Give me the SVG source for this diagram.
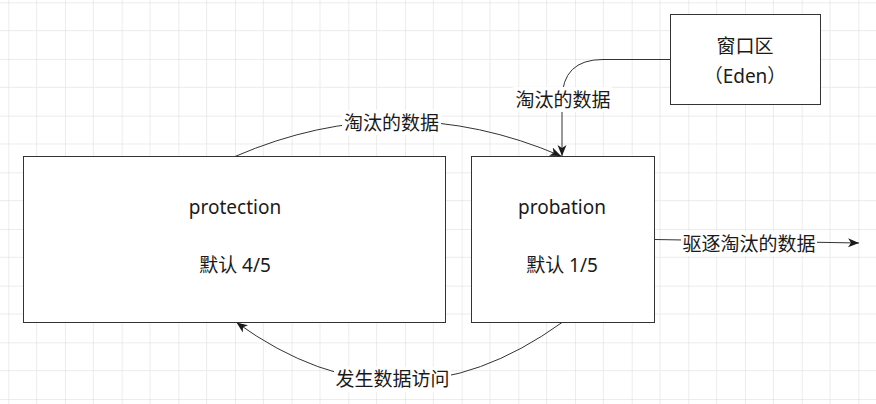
<svg xmlns="http://www.w3.org/2000/svg" width="876" height="404" viewBox="0 0 876 404">
<defs>
<pattern id="grid" x="8.3" y="2.3" width="56.67" height="56.67" patternUnits="userSpaceOnUse">
<path d="M28.33,0 V56.67 M0,28.33 H56.67" stroke="#ebebeb" stroke-width="1" fill="none"/>
<path d="M0,0 V56.67 M0,0 H56.67" stroke="#dadada" stroke-width="1" fill="none"/>
</pattern>
<marker id="arr" markerUnits="userSpaceOnUse" markerWidth="12" markerHeight="10" viewBox="0 0 12 10" refX="11" refY="5" orient="auto">
<path d="M0,0.5 L11,5 L0,9.5 L3,5 Z" fill="#1a1a1a"/>
</marker>
</defs>
<style>
.box{fill:#fff;stroke:#333;stroke-width:1}
.edge{fill:none;stroke:#333;stroke-width:1}
.t{font-family:"Noto Sans","Noto Sans CJK SC",sans-serif;font-size:19px;fill:#1a1a1a;text-anchor:middle}
.lbg{fill:#fff}
</style>
<rect width="876" height="404" fill="#fff"/>
<rect width="876" height="404" fill="url(#grid)"/>
<g id="edges">
<path class="edge" d="M235,156.5 Q398,86 561,156" marker-end="url(#arr)"/>
<path class="edge" d="M670.5,59.5 L603,59.5 Q562,59.5 562,100 L562,156" marker-end="url(#arr)"/>
<path class="edge" d="M562,322.5 Q399,440 236.5,322.5" marker-end="url(#arr)"/>
<path class="edge" d="M654.5,239.5 L859,243" marker-end="url(#arr)"/>
<g id="lbl1"><rect class="lbg" x="342" y="110" width="99" height="25"/><text class="t" x="391.5" y="130">淘汰的数据</text></g>
<g id="lbl2"><rect class="lbg" x="513" y="87" width="99" height="25"/><text class="t" x="563" y="106.5">淘汰的数据</text></g>
<g id="lbl3"><rect class="lbg" x="334" y="367" width="117" height="25"/><text class="t" x="392.5" y="386">发生数据访问</text></g>
<g id="lbl4"><rect class="lbg" x="681" y="231" width="136" height="25"/><text class="t" x="749" y="251">驱逐淘汰的数据</text></g>
</g>
<g id="protection">
<rect class="box" x="23.5" y="156.5" width="422" height="166"/>
<text class="t" x="235" y="214">protection</text>
<text class="t" x="235" y="272">默认 4/5</text>
</g>
<g id="probation">
<rect class="box" x="471.5" y="156.5" width="183" height="166"/>
<text class="t" x="562" y="214">probation</text>
<text class="t" x="562" y="272">默认 1/5</text>
</g>
<g id="eden">
<rect class="box" x="670.5" y="14.5" width="150" height="90"/>
<text class="t" x="745" y="52.5">窗口区</text>
<text class="t" x="745" y="83">（Eden）</text>
</g>
</svg>
